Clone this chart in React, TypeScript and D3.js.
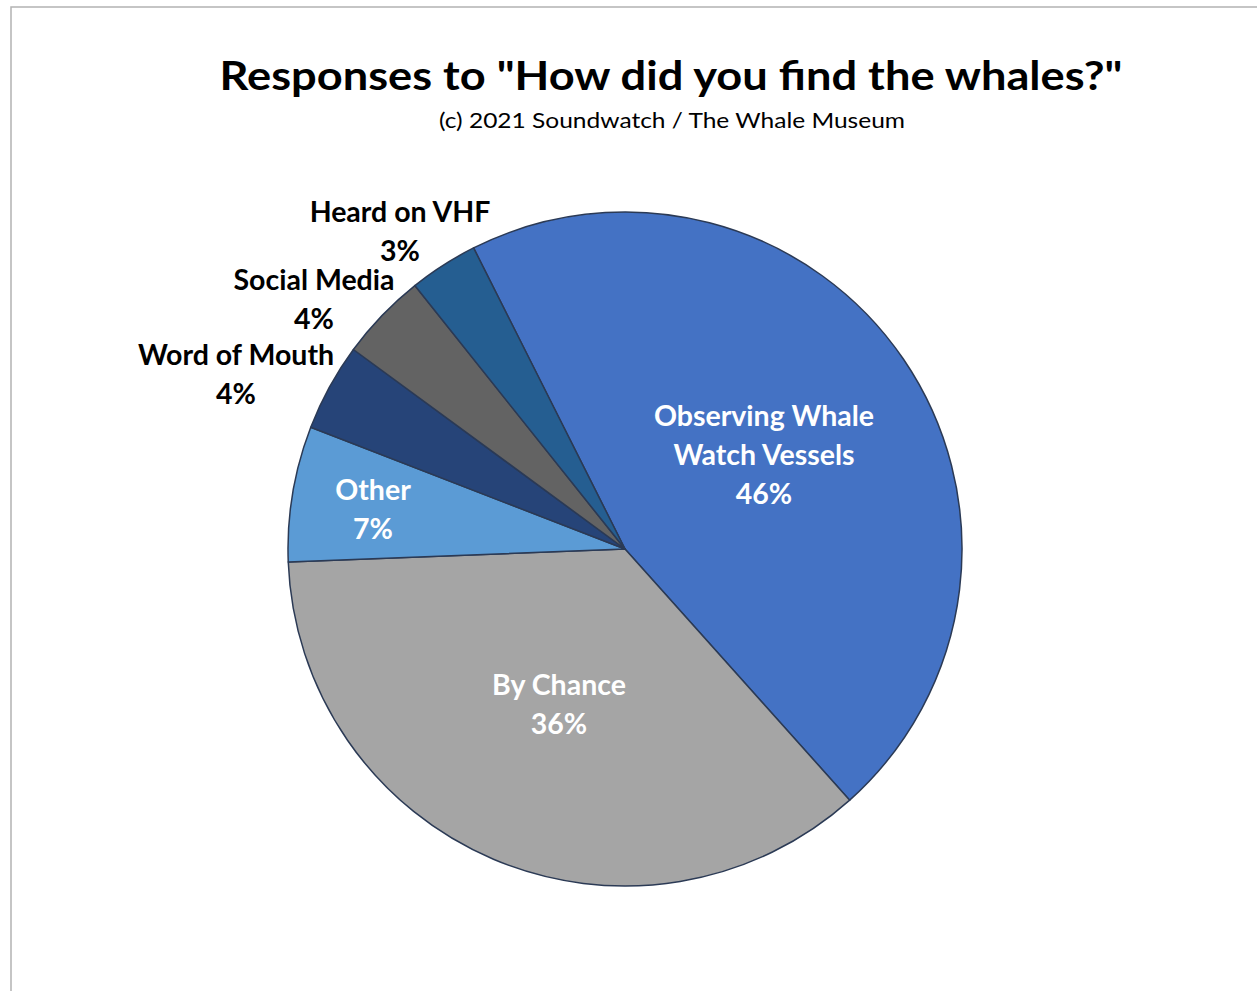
import React from "react";
import * as d3 from "d3";

const categories = ["Observing Whale Watch Vessels", "By Chance", "Other", "Word of Mouth", "Social Media", "Heard on VHF"];
const values = [45.8, 36.0, 6.5, 4.2, 4.2, 3.3];
const colors = ["#4472C4", "#A5A5A5", "#5B9BD5", "#264478", "#636363", "#255E91"];
const labelLines = [
  ["Observing Whale", "Watch Vessels", "46%"],
  ["By Chance", "36%"],
  ["Other", "7%"],
  ["Word of Mouth", "4%"],
  ["Social Media", "4%"],
  ["Heard on VHF", "3%"],
];
const labelPos = [
  [764, 415, "#fff"],
  [559, 684, "#fff"],
  [373, 489, "#fff"],
  [236, 354, "#000"],
  [314, 279, "#000"],
  [400, 211, "#000"],
];

export default function App() {
  const W = 1257, H = 991;
  const cx = 625, cy = 549, r = 337;
  const start = (-26.7 * Math.PI) / 180;
  const pie = d3.pie<number>().sort(null).startAngle(start).endAngle(start + 2 * Math.PI);
  const arcs = pie(values);
  const arc = d3.arc<d3.PieArcDatum<number>>().innerRadius(0).outerRadius(r);
  const font = "Lato, 'Open Sans', sans-serif";
  return (
    <svg width={W} height={H} style={{ position: "absolute", left: 0, top: 0 }}>
      <rect x={0} y={0} width={W} height={H} fill="#fff" />
      <rect x={11} y={7} width={W + 20} height={H + 20} fill="none" stroke="#b3b3b3" strokeWidth={1.5} />
      <text x={671} y={75} textAnchor="middle" dominantBaseline="central" fontFamily={font} fontWeight={700} fontSize={40} fill="#000" textLength={903} lengthAdjust="spacingAndGlyphs">
        Responses to "How did you find the whales?"
      </text>
      <text x={672} y={119} textAnchor="middle" dominantBaseline="central" fontFamily={font} fontSize={22} fill="#000" textLength={466} lengthAdjust="spacingAndGlyphs">
        (c) 2021 Soundwatch / The Whale Museum
      </text>
      <g transform={`translate(${cx},${cy})`}>
        {arcs.map((a, i) => (
          <path key={categories[i]} d={arc(a) || ""} fill={colors[i]} stroke="#2B3A55" strokeWidth={1.5} strokeLinejoin="round" />
        ))}
      </g>
      {labelLines.map((lines, i) => (
        <text key={i} textAnchor="middle" fontFamily={font} fontWeight={700} fontSize={28.5} fill={labelPos[i][2] as string}>
          {lines.map((l, j) => (
            <tspan key={j} x={labelPos[i][0] as number} y={(labelPos[i][1] as number) + j * 39} dominantBaseline="central">
              {l}
            </tspan>
          ))}
        </text>
      ))}
    </svg>
  );
}
